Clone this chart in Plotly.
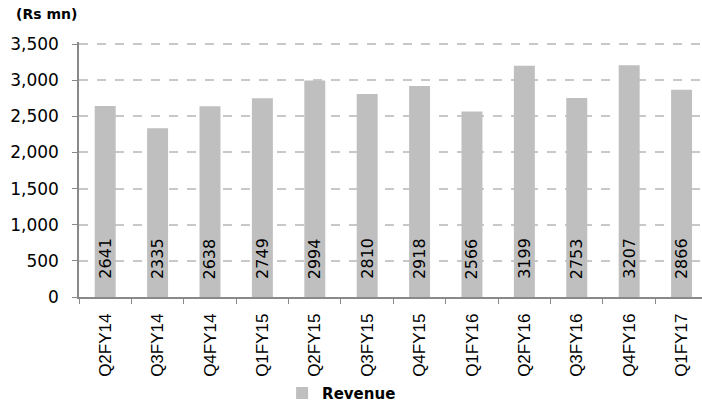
import plotly.graph_objects as go

categories = ["Q2FY14", "Q3FY14", "Q4FY14", "Q1FY15", "Q2FY15", "Q3FY15",
              "Q4FY15", "Q1FY16", "Q2FY16", "Q3FY16", "Q4FY16", "Q1FY17"]
revenue = [2641, 2335, 2638, 2749, 2994, 2810, 2918, 2566, 3199, 2753, 3207, 2866]
y_ticks = [0, 500, 1000, 1500, 2000, 2500, 3000, 3500]

font_arial = "Liberation Sans, Arial, sans-serif"
font_geo = "DejaVu Sans, sans-serif"

fig = go.Figure()
fig.add_trace(go.Bar(
    x=categories, y=revenue, name="Revenue",
    marker=dict(color="#BFBFBF", line=dict(width=0)),
))

annotations = [dict(text="<b>(Rs mn)</b>", xref="paper", yref="paper", x=-0.104, y=1.07,
                    xanchor="left", yanchor="bottom", showarrow=False,
                    font=dict(size=14, color="black", family=font_geo))]
for c, v in zip(categories, revenue):
    annotations.append(dict(
        x=c, y=0, xref="x", yref="y", text=str(v), showarrow=False,
        textangle=-90, xanchor="center", yanchor="bottom", yshift=16,
        font=dict(size=16, color="black", family=font_geo),
    ))

fig.update_layout(
    width=702, height=406,
    margin=dict(l=79, r=0, t=42, b=109, autoexpand=False),
    paper_bgcolor="white", plot_bgcolor="white",
    bargap=0.6,
    showlegend=True,
    legend=dict(orientation="h", x=0.326, y=-0.313, xanchor="left", yanchor="top",
                font=dict(size=15, color="black", family=font_geo, weight="bold"),
                itemwidth=30),
    annotations=annotations,
)
fig.update_xaxes(
    type="category", range=[-0.5, 11.39], automargin=False,
    showline=True, linecolor="#898989", linewidth=1.5,
    ticks="outside", tickson="boundaries", ticklen=5, tickcolor="#898989",
    tickangle=-90, tickfont=dict(size=17, color="black", family=font_arial),
    ticklabelstandoff=8,
    showgrid=False,
)
fig.update_yaxes(
    range=[0, 3528], tickvals=y_ticks, tickformat=",", automargin=False,
    showline=True, linecolor="#898989", linewidth=1.5,
    ticks="outside", ticklen=5, tickcolor="#898989",
    tickfont=dict(size=17, color="black", family=font_geo),
    ticklabelstandoff=10,
    showgrid=True, gridcolor="#C8C8C8", griddash="dash", gridwidth=1.5,
    zeroline=False,
)
fig.write_html("out.html")
